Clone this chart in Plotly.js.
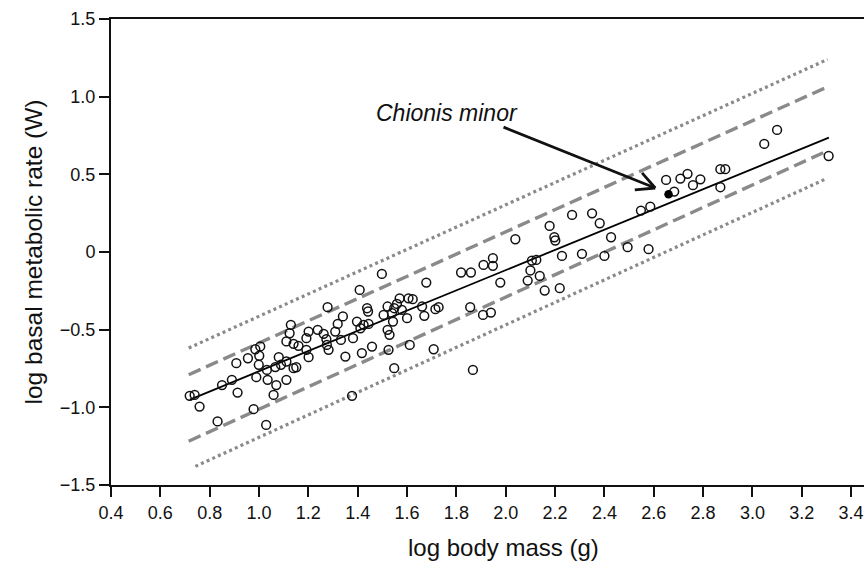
<!DOCTYPE html>
<html>
<head>
<meta charset="utf-8">
<script src="https://cdn.plot.ly/plotly-3.0.1.min.js"></script>
<style>
  html, body { margin: 0; padding: 0; background: #fff; }
  #chart { width: 864px; height: 564px; }
</style>
</head>
<body>
<div id="chart"></div>
<script>
// ---- data ----
const bodyMass = [
  0.719, 0.739, 0.759, 0.832, 0.850, 0.890, 0.913, 0.908, 0.955, 0.978,
  0.989, 0.985, 1.005, 1.001, 0.999, 1.032, 1.035, 1.070, 1.059, 1.029,
  1.080, 1.089, 1.111, 1.066, 1.111, 1.140, 1.151, 1.129, 1.124, 1.111,
  1.140, 1.160,
  1.192, 1.201, 1.192, 1.201, 1.238, 1.262, 1.273, 1.275, 1.282, 1.278,
  1.309, 1.319, 1.340, 1.332, 1.350, 1.381, 1.397, 1.411, 1.424, 1.444,
  1.408, 1.417, 1.438, 1.442, 1.458, 1.498, 1.505, 1.521, 1.539, 1.548,
  1.559, 1.570, 1.521, 1.529, 1.543, 1.525, 1.548, 1.579, 1.600, 1.606,
  1.623, 1.611, 1.661, 1.670, 1.678, 1.715, 1.728, 1.708, 1.377, 1.819,
  1.859, 1.856, 1.867,
  1.910, 1.948, 1.948, 1.978, 1.908, 1.940, 2.039, 2.106, 2.124, 2.100,
  2.089, 2.138, 2.158, 2.219, 2.178, 2.197, 2.201, 2.228, 2.269, 2.309,
  2.350, 2.381, 2.400, 2.427, 2.494,
  2.579, 2.548, 2.586, 2.650, 2.683, 2.708, 2.737, 2.759, 2.789, 2.870,
  2.890, 2.870, 3.048, 3.100, 3.309
];
const metabolicRate = [
  -0.926, -0.920, -0.995, -1.091, -0.857, -0.823, -0.905, -0.716, -0.684, -1.012,
  -0.806, -0.626, -0.608, -0.668, -0.726, -0.759, -0.823, -0.857, -0.920, -1.113,
  -0.677, -0.726, -0.705, -0.741, -0.823, -0.748, -0.742, -0.469, -0.523, -0.576,
  -0.591, -0.604,
  -0.555, -0.512, -0.630, -0.677, -0.501, -0.527, -0.561, -0.598, -0.630, -0.355,
  -0.512, -0.463, -0.415, -0.566, -0.673, -0.555, -0.448, -0.491, -0.469, -0.463,
  -0.244, -0.651, -0.362, -0.383, -0.609, -0.141, -0.405, -0.351, -0.394, -0.362,
  -0.334, -0.298, -0.501, -0.533, -0.448, -0.630, -0.748, -0.373, -0.426, -0.298,
  -0.304, -0.598, -0.351, -0.411, -0.197, -0.368, -0.355, -0.626, -0.926, -0.132,
  -0.132, -0.355, -0.759,
  -0.083, -0.040, -0.089, -0.197, -0.405, -0.390, 0.082, -0.055, -0.051, -0.119,
  -0.184, -0.154, -0.248, -0.233, 0.168, 0.095, 0.074, -0.025, 0.239, -0.012,
  0.249, 0.185, -0.025, 0.095, 0.031,
  0.018, 0.267, 0.292, 0.464, 0.389, 0.473, 0.503, 0.430, 0.468, 0.533,
  0.533, 0.417, 0.696, 0.786, 0.618
];
const chionisX = [2.660];
const chionisY = [0.372];

// regression line and bands (end points)
const fitX = [0.72, 3.31];
const fitY = [-0.950, 0.736];
const dashUpperX = [0.715, 3.30];
const dashUpperY = [-0.790, 1.060];
const dashLowerX = [0.715, 3.30];
const dashLowerY = [-1.218, 0.648];
const dotUpperX = [0.715, 3.305];
const dotUpperY = [-0.618, 1.240];
const dotLowerX = [0.742, 3.30];
const dotLowerY = [-1.380, 0.472];

const xTicks = [0.4, 0.6, 0.8, 1.0, 1.2, 1.4, 1.6, 1.8, 2.0, 2.2, 2.4, 2.6, 2.8, 3.0, 3.2, 3.4];
const yTicks = [1.5, 1.0, 0.5, 0, -0.5, -1.0, -1.5];
const yTickText = ['1.5', '1.0', '0.5', '0', '\u22120.5', '\u22121.0', '\u22121.5'];

const xTitle = 'log body mass (g)';
const yTitle = 'log basal metabolic rate (W)';
const labelText = 'Chionis minor';
const labelPos = [1.76, 0.895];
const arrowTail = [1.985, 0.808];
const arrowTip = [2.606, 0.412];

// ---- layout constants ----
const W = 864, H = 564;
const M = { l: 111, r: 0, t: 19, b: 79 };
const xRange = [0.4, 0.4 + (W - M.l - M.r) / 246.7];
const yRange = [-1.5, 1.5];
const FONT = 'Liberation Sans, Arial, Helvetica, sans-serif';
const grey = '#8a8a8a';

const traces = [
  { x: dotUpperX, y: dotUpperY, mode: 'lines', line: { color: grey, width: 3.2, dash: '3px,3.2px' }, hoverinfo: 'skip' },
  { x: dotLowerX, y: dotLowerY, mode: 'lines', line: { color: grey, width: 3.2, dash: '3px,3.2px' }, hoverinfo: 'skip' },
  { x: dashUpperX, y: dashUpperY, mode: 'lines', line: { color: grey, width: 3.4, dash: '13px,6px' }, hoverinfo: 'skip' },
  { x: dashLowerX, y: dashLowerY, mode: 'lines', line: { color: grey, width: 3.4, dash: '13px,6px' }, hoverinfo: 'skip' },
  { x: fitX, y: fitY, mode: 'lines', line: { color: '#000', width: 1.8 }, hoverinfo: 'skip' },
  { x: bodyMass, y: metabolicRate, mode: 'markers',
    marker: { symbol: 'circle-open', size: 8.8, color: '#111', line: { width: 1.5, color: '#111' } } },
  { x: chionisX, y: chionisY, mode: 'markers',
    marker: { symbol: 'circle', size: 8.5, color: '#000', line: { width: 0 } } }
];

// arrow: shaft plus an open "V" head, built in pixel space
const pxPerX = (W - M.l - M.r) / (xRange[1] - xRange[0]);
const pxPerY = (H - M.t - M.b) / (yRange[1] - yRange[0]);
const dxp = (arrowTail[0] - arrowTip[0]) * pxPerX;
const dyp = -(arrowTail[1] - arrowTip[1]) * pxPerY;
const ang = Math.atan2(dyp, dxp);
const armLen = 22, armAng = 27 * Math.PI / 180;

const annotations = [
  { x: labelPos[0], y: labelPos[1], xref: 'x', yref: 'y', text: '<i>' + labelText + '</i>',
    showarrow: false, font: { family: FONT, size: 23, color: '#111' } },
  { x: arrowTip[0], y: arrowTip[1], xref: 'x', yref: 'y', ax: arrowTail[0], ay: arrowTail[1],
    axref: 'x', ayref: 'y', text: '', showarrow: true, arrowhead: 0, arrowwidth: 2.8, arrowcolor: '#111', standoff: 0, startstandoff: 0 },
  // x-axis title, centred where the reference puts it
  { x: (503 - M.l) / (W - M.l - M.r), y: (H - M.b - 547) / (H - M.t - M.b), xref: 'paper', yref: 'paper',
    xanchor: 'center', yanchor: 'middle', text: xTitle, showarrow: false,
    font: { family: FONT, size: 24, color: '#111' } }
];
[1, -1].forEach(s => {
  annotations.push({
    x: arrowTip[0], y: arrowTip[1], xref: 'x', yref: 'y',
    ax: armLen * Math.cos(ang + s * armAng), ay: armLen * Math.sin(ang + s * armAng),
    text: '', showarrow: true, arrowhead: 0, arrowwidth: 2.8, arrowcolor: '#111', standoff: 0, startstandoff: 0
  });
});

const layout = {
  width: W, height: H,
  margin: M,
  paper_bgcolor: '#fff', plot_bgcolor: '#fff',
  showlegend: false,
  font: { family: FONT, color: '#111' },
  xaxis: {
    range: xRange, tickvals: xTicks, ticktext: xTicks.map(v => v.toFixed(1)),
    showgrid: false, zeroline: false, showline: true, mirror: true,
    linecolor: '#111', linewidth: 2, ticks: 'outside', ticklen: 10, tickwidth: 2, tickcolor: '#111',
    tickfont: { family: FONT, size: 18, color: '#111' }
  },
  yaxis: {
    range: yRange, tickvals: yTicks, ticktext: yTickText,
    showgrid: false, zeroline: false, showline: true, mirror: false,
    linecolor: '#111', linewidth: 2, ticks: 'outside', ticklen: 10, tickwidth: 2, tickcolor: '#111',
    tickfont: { family: FONT, size: 18, color: '#111' },
    title: { text: yTitle, font: { family: FONT, size: 24.5, color: '#111' }, standoff: 10 }
  },
  annotations: annotations
};

Plotly.newPlot('chart', traces, layout, { staticPlot: true, displayModeBar: false });
</script>
</body>
</html>
